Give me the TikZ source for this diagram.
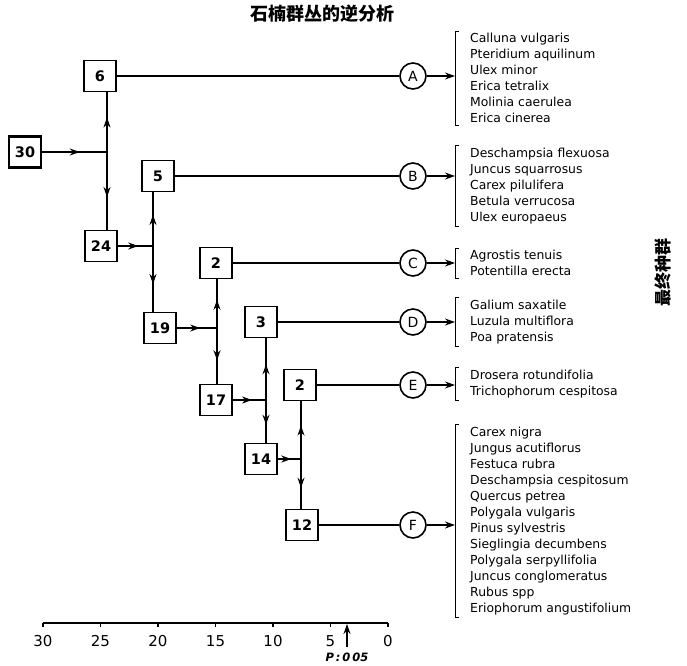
\documentclass[tikz,border=0pt]{standalone}
\usepackage{fontspec}
\setmainfont{DejaVu Sans}
\newfontfamily\cjk{Noto Sans CJK SC}
\usetikzlibrary{arrows.meta,decorations.markings}

\begin{document}
\begin{tikzpicture}[x=1pt,y=-1pt,
        numbox/.style={rectangle, draw, line width=1.8pt, minimum width=32pt, minimum height=31pt, inner sep=0pt, font=\bfseries\fontsize{14.5}{14.5}\selectfont},
        grp/.style={circle, draw, line width=1.6pt, minimum size=26pt, inner sep=0pt, font=\fontsize{14}{14}\selectfont},
        spp/.style={anchor=west, align=left, inner sep=0pt, font=\fontsize{12.4}{16}\selectfont},
        conn/.style={line width=1.4pt},
        tip/.style={-{Stealth[length=10pt,width=7pt]}},
        split/.style={conn, postaction={decorate}, decoration={markings, mark=at position 0.58 with {\arrow{Stealth[length=10pt,width=7pt]}}}},
        brace/.style={line width=1pt}
    ]
        \useasboundingbox (0,0) rectangle (687,665);

        % title and side label
        \node[font=\cjk\bfseries\fontsize{18}{18}\selectfont] (title) at (322,14) {石楠群丛的逆分析};
        \node[rotate=90, font=\cjk\bfseries\fontsize{17}{17}\selectfont] (final) at (663,272) {最终种群};

        % division boxes
        \node[numbox, line width=2.4pt] (b30) at (25,152) {30};
        \node[numbox] (b6)  at (100,76)  {6};
        \node[numbox] (b24) at (101,246) {24};
        \node[numbox] (b5)  at (158,176) {5};
        \node[numbox] (b19) at (160,328) {19};
        \node[numbox] (b2c) at (216,263) {2};
        \node[numbox] (b17) at (216,400) {17};
        \node[numbox] (b3)  at (261,322) {3};
        \node[numbox] (b14) at (261,459) {14};
        \node[numbox] (b2e) at (300,385) {2};
        \node[numbox] (b12) at (302,525) {12};

        % junctions
        \coordinate (j1) at (107,152);
        \coordinate (j2) at (153,246);
        \coordinate (j3) at (217,328);
        \coordinate (j4) at (266,400);
        \coordinate (j5) at (301,459);

        \draw[split] (b30) -- (j1);
        \draw[split] (j1) -- (j1 |- b6.south);
        \draw[split] (j1) -- (j1 |- b24.north);
        \draw[split] (b24) -- (j2);
        \draw[split] (j2) -- (j2 |- b5.south);
        \draw[split] (j2) -- (j2 |- b19.north);
        \draw[split] (b19) -- (j3);
        \draw[split] (j3) -- (j3 |- b2c.south);
        \draw[split] (j3) -- (j3 |- b17.north);
        \draw[split] (b17) -- (j4);
        \draw[split] (j4) -- (j4 |- b3.south);
        \draw[split] (j4) -- (j4 |- b14.north);
        \draw[split] (b14) -- (j5);
        \draw[split] (j5) -- (j5 |- b2e.south);
        \draw[split] (j5) -- (j5 |- b12.north);

        % final groups
        \node[grp] (cA) at (413,76)  {A};
        \node[grp] (cB) at (413,176) {B};
        \node[grp] (cC) at (413,263) {C};
        \node[grp] (cD) at (413,322) {D};
        \node[grp] (cE) at (413,385) {E};
        \node[grp] (cF) at (413,525) {F};

        \draw[conn] (b6) -- (cA);
        \draw[conn] (b5) -- (cB);
        \draw[conn] (b2c) -- (cC);
        \draw[conn] (b3) -- (cD);
        \draw[conn] (b2e) -- (cE);
        \draw[conn] (b12) -- (cF);

        % species lists
        \node[spp] (lA) at (470,78) {Calluna vulgaris\\Pteridium aquilinum\\Ulex minor\\Erica tetralix\\Molinia caerulea\\Erica cinerea};
        \node[spp] (lB) at (470,186) {Deschampsia flexuosa\\Juncus squarrosus\\Carex pilulifera\\Betula verrucosa\\Ulex europaeus};
        \node[spp] (lC) at (470,263) {Agrostis tenuis\\Potentilla erecta};
        \node[spp] (lD) at (470,322) {Galium saxatile\\Luzula multiflora\\Poa pratensis};
        \node[spp] (lE) at (470,384) {Drosera rotundifolia\\Trichophorum cespitosa};
        \node[spp] (lF) at (470,521) {Carex nigra\\Jungus acutiflorus\\Festuca rubra\\Deschampsia cespitosum\\Quercus petrea\\Polygala vulgaris\\Pinus sylvestris\\Sieglingia decumbens\\Polygala serpyllifolia\\Juncus conglomeratus\\Rubus spp\\Eriophorum angustifolium};

        \foreach \g in {A,B,C,D,E,F} {
            \coordinate (k\g) at ([xshift=-15pt]l\g.west);
            \draw[brace] ([xshift=-11pt,yshift=2pt]l\g.north west) -- ++(-4,0) |- ([xshift=-11pt,yshift=-2pt]l\g.south west);
            \draw[conn, tip] (c\g) -- (c\g -| k\g);
        }

        % scale
        \coordinate (s30) at (43,623);
        \coordinate (s0) at (388,623);
        \draw[conn] (s30) -- (s0);
        \foreach \v in {0,5,...,30} {
            \draw[conn] ({388-11.5*\v},623) -- ++(0,4);
            \node[font=\fontsize{15}{15}\selectfont] (t\v) at ({388-11.5*\v},641) {\v};
        }
        \coordinate (pv) at (347,624);
        \coordinate (pb) at (347,647);
        \draw[conn, tip] (pb) -- (pv);
        \node[font=\bfseries\itshape\fontsize{11.5}{11.5}\selectfont] (plab) at (347,657) {P\,:\,0\,05};
    \end{tikzpicture}
\end{document}
